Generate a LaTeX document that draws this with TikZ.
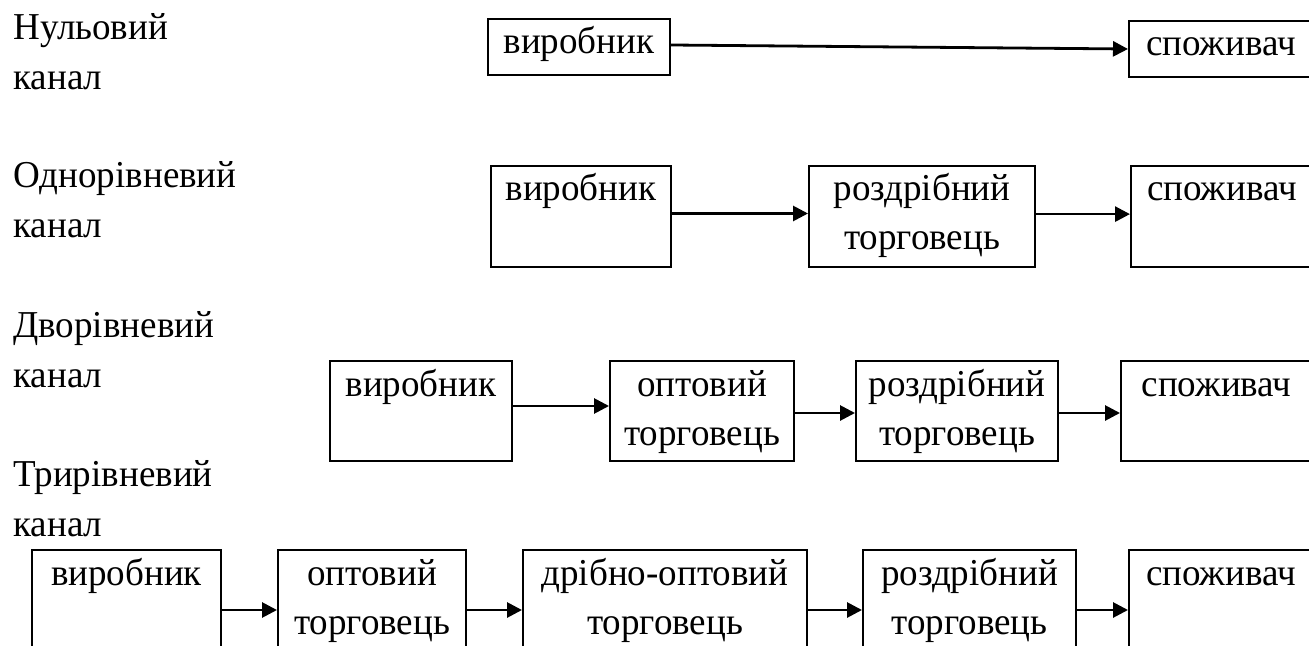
\documentclass[tikz,border=0pt]{standalone}
\usepackage{fontspec}
\setmainfont{Liberation Serif}[FakeStretch=0.975]
\usetikzlibrary{arrows.meta}
\newdimen\pxu
\pxu=0.5pt
% box contents: width, height (in px), text
\newcommand{\boxtext}[3]{\parbox[t][#2\pxu][t]{#1\pxu}{\centering\rule{0pt}{17.5pt}#3}}
\newcommand{\chantitle}[1]{\parbox[t]{130pt}{\raggedright #1}}

\begin{document}
\begin{tikzpicture}[
    x=0.5pt, y=-0.5pt,
    font=\fontsize{19}{24.5}\selectfont,
    chanbox/.style={draw, line width=1pt, inner sep=0pt, anchor=north west},
    chlabel/.style={inner sep=0pt, anchor=base west, font=\fontsize{19}{25}\selectfont},
    arrow/.style={-{Triangle[length=7.5pt, width=7.5pt]}, line width=1.4pt}
]
    \useasboundingbox (0,0) rectangle (1309,646);
    \clip (0,0) rectangle (1309,646);

    % Channel names
    \node[chlabel] (l1) at (13,40) {\chantitle{Нульовий\\канал}};
    \node[chlabel] (l2) at (13,188) {\chantitle{Однорівневий\\канал}};
    \node[chlabel] (l3) at (13,337) {\chantitle{Дворівневий\\канал}};
    \node[chlabel] (l4) at (13,486) {\chantitle{Трирівневий\\канал}};

    % Zero level
    \node[chanbox] (a1) at (487,18) {\boxtext{182}{56}{виробник}};
    \node[chanbox] (a2) at (1128,20) {\boxtext{184}{56}{споживач}};
    \draw[arrow] ([yshift=1pt]a1.east) -- (a2.west);

    % One level
    \node[chanbox] (b1) at (490,165) {\boxtext{180}{101}{виробник}};
    \node[chanbox] (b2) at (808,165) {\boxtext{226}{101}{роздрібний\\торговець}};
    \node[chanbox] (b3) at (1130,165) {\boxtext{182}{101}{споживач}};
    \draw[arrow] ([yshift=1.5pt]b1.east) -- ([yshift=1.5pt]b2.west);
    \draw[arrow] ([yshift=1.2pt]b2.east) -- ([yshift=1.2pt]b3.west);

    % Two levels
    \node[chanbox] (c1) at (329,360) {\boxtext{182}{100}{виробник}};
    \node[chanbox] (c2) at (609,360) {\boxtext{184}{100}{оптовий\\торговець}};
    \node[chanbox] (c3) at (855,360) {\boxtext{202}{100}{роздрібний\\торговець}};
    \node[chanbox] (c4) at (1120,360) {\boxtext{191}{100}{споживач}};
    \draw[arrow] ([yshift=2.5pt]c1.east) -- ([yshift=2.5pt]c2.west);
    \draw[arrow] ([yshift=-1pt]c2.east) -- ([yshift=-1pt]c3.west);
    \draw[arrow] ([yshift=-1pt]c3.east) -- ([yshift=-1pt]c4.west);

    % Three levels
    \node[chanbox] (d1) at (31,549) {\boxtext{189}{120}{виробник}};
    \node[chanbox] (d2) at (277,549) {\boxtext{188}{120}{оптовий\\торговець}};
    \node[chanbox] (d3) at (522,549) {\boxtext{284}{120}{дрібно-оптовий\\торговець}};
    \node[chanbox] (d4) at (862,549) {\boxtext{213}{120}{роздрібний\\торговець}};
    \node[chanbox] (d5) at (1128,549) {\boxtext{184}{120}{споживач}};
    \draw[arrow] (d1) -- (d2);
    \draw[arrow] (d2) -- (d3);
    \draw[arrow] (d3) -- (d4);
    \draw[arrow] (d4) -- (d5);
\end{tikzpicture}
\end{document}
